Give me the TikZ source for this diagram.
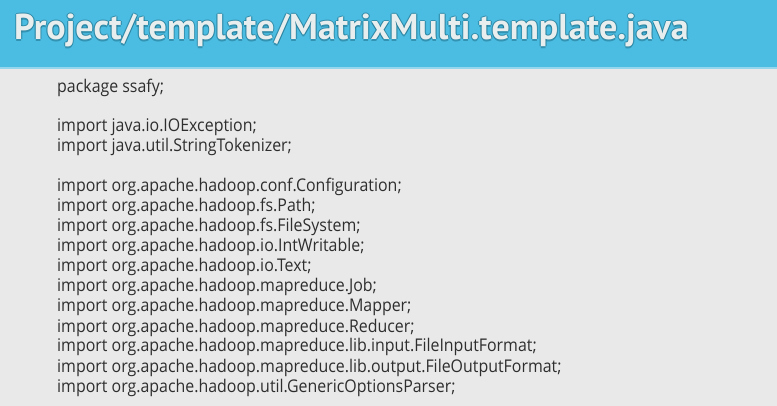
\documentclass[tikz,border=0pt]{standalone}
\usepackage{fontspec}
\setmainfont{Open Sans}
\newfontfamily\codefont{Open Sans}[FakeStretch=0.91]
\newfontfamily\titlefont{PT Sans}
\usetikzlibrary{positioning}
\definecolor{barblue}{HTML}{4CBDE2}
\definecolor{barline}{HTML}{94D6EC}
\definecolor{pagegray}{HTML}{E9E9E9}
\definecolor{codegray}{HTML}{2E2E2E}
\definecolor{titlewhite}{HTML}{E8EEEE}
\definecolor{titleglow}{HTML}{1A6A84}

\begin{document}
\begin{tikzpicture}[x=1pt,y=-1pt,
  titletext/.style={anchor=base west,inner sep=0pt,font=\titlefont\bfseries\fontsize{36}{40}\selectfont},
  codeline/.style={anchor=base west,inner sep=0pt,text=codegray,font=\codefont\fontsize{17.5}{20}\selectfont}]
  \fill[pagegray] (0,0) rectangle (777,406);
  \fill[barblue] (0,0) rectangle (777,68);
  \fill[barline] (0,67.5) rectangle (777,69.5);
  % title with a soft dark rim
  \foreach \dx/\dy in {-1.2/0,1.2/0,0/-1.2,0/1.2}
    \node[titletext,text=titleglow,opacity=0.5] at (14+\dx,40+\dy) {Project/template/MatrixMulti.template.java};
  \node[titletext,text=titlewhite] (title) at (14,40) {Project/template/MatrixMulti.template.java};
  % code
  \node[codeline] (pkg) at (57,92.5) {package ssafy;};
  \foreach \n/\txt in {0/java.io.IOException,1/java.util.StringTokenizer}
    \node[codeline] (imp\n) at (57,132+20*\n) {import \txt;};
  \foreach \n/\txt in {0/conf.Configuration,1/fs.Path,2/fs.FileSystem,3/io.IntWritable,4/io.Text,
      5/mapreduce.Job,6/mapreduce.Mapper,7/mapreduce.Reducer,8/mapreduce.lib.input.FileInputFormat,
      9/mapreduce.lib.output.FileOutputFormat,10/util.GenericOptionsParser}
    \node[codeline] (hdp\n) at (57,192+20*\n) {import org.apache.hadoop.\txt;};
\end{tikzpicture}
\end{document}
